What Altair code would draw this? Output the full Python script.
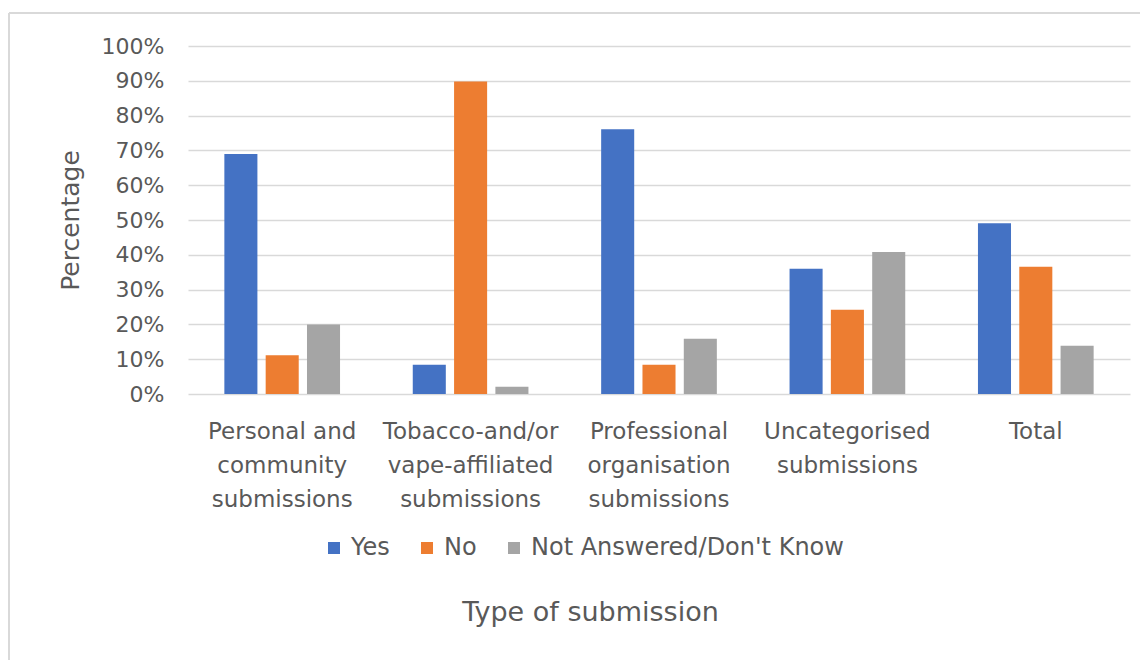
import altair as alt
import pandas as pd

categories = [
    "Personal and|community|submissions",
    "Tobacco-and/or|vape-affiliated|submissions",
    "Professional|organisation|submissions",
    "Uncategorised|submissions",
    "Total",
]
responses = ["Yes", "No", "Not Answered/Don't Know"]
yes_vals = [69.0, 8.4, 76.1, 36.0, 49.1]
no_vals = [11.1, 89.8, 8.4, 24.2, 36.6]
na_vals = [20.0, 2.1, 15.9, 40.8, 13.9]
colors = ["#4472C4", "#ED7D31", "#A5A5A5"]
y_ticks = [0, 10, 20, 30, 40, 50, 60, 70, 80, 90, 100]

rows = []
for series, vals in zip(responses, [yes_vals, no_vals, na_vals]):
    for c, v in zip(categories, vals):
        rows.append({"category": c, "response": series, "value": v / 100.0})
df = pd.DataFrame(rows)

FONT = "DejaVu Sans"
TXT = "#595959"

bars = alt.Chart(df).mark_bar().encode(
    x=alt.X(
        "category:N",
        sort=categories,
        scale=alt.Scale(paddingInner=0, paddingOuter=0),
        axis=alt.Axis(
            title="Type of submission",
            labelExpr="split(datum.label, '|')",
            labelAngle=0,
            labelFont=FONT,
            labelFontSize=23,
            labelColor=TXT,
            labelLineHeight=34,
            labelBaseline="top",
            labelPadding=26,
            labelLimit=300,
            ticks=False,
            domain=False,
            titleFont=FONT,
            titleFontSize=27,
            titleFontWeight="normal",
            titleColor=TXT,
            titlePadding=88,
            titleX=402,
            titleAlign="center",
        ),
    ),
    xOffset=alt.XOffset(
        "response:N",
        sort=responses,
        scale=alt.Scale(paddingInner=0.2, paddingOuter=0.88),
    ),
    y=alt.Y(
        "value:Q",
        scale=alt.Scale(domain=[0, 1]),
        axis=alt.Axis(
            title="Percentage",
            format=".0%",
            values=[t / 100 for t in y_ticks],
            labelFont=FONT,
            labelFontSize=22,
            labelColor=TXT,
            labelPadding=24,
            ticks=False,
            domain=False,
            grid=True,
            gridColor="#D9D9D9",
            gridWidth=1.5,
            titleFont=FONT,
            titleFontSize=25,
            titleFontWeight="normal",
            titleColor=TXT,
            titlePadding=18,
        ),
    ),
    color=alt.Color(
        "response:N",
        sort=responses,
        scale=alt.Scale(domain=responses, range=colors),
        legend=alt.Legend(
            title=None,
            orient="none",
            direction="horizontal",
            legendX=134,
            legendY=490,
            symbolType="square",
            symbolSize=144,
            symbolStrokeWidth=0,
            labelFont=FONT,
            labelFontSize=24,
            labelColor=TXT,
            labelOffset=5,
            labelLimit=400,
            columnPadding=25,
            padding=0,
        ),
    ),
)

frame_top = alt.Chart(df).mark_rule(color="#D9D9D9", strokeWidth=2).encode(
    x=alt.value(-179), x2=alt.value(1000), y=alt.value(-33)
)
frame_left = alt.Chart(df).mark_rule(color="#D9D9D9", strokeWidth=2).encode(
    x=alt.value(-179), y=alt.value(-33), y2=alt.value(700)
)

chart = (
    alt.layer(frame_top, frame_left, bars)
    .properties(
        width=942,
        height=348,
        autosize=alt.AutoSizeParams(type="none"),
        padding={"left": 180, "top": 38, "right": 10, "bottom": 266},
        background="white",
    )
    .configure_view(stroke=None)
)

chart.save("out.html", embed_options={"renderer": "svg", "actions": False})
